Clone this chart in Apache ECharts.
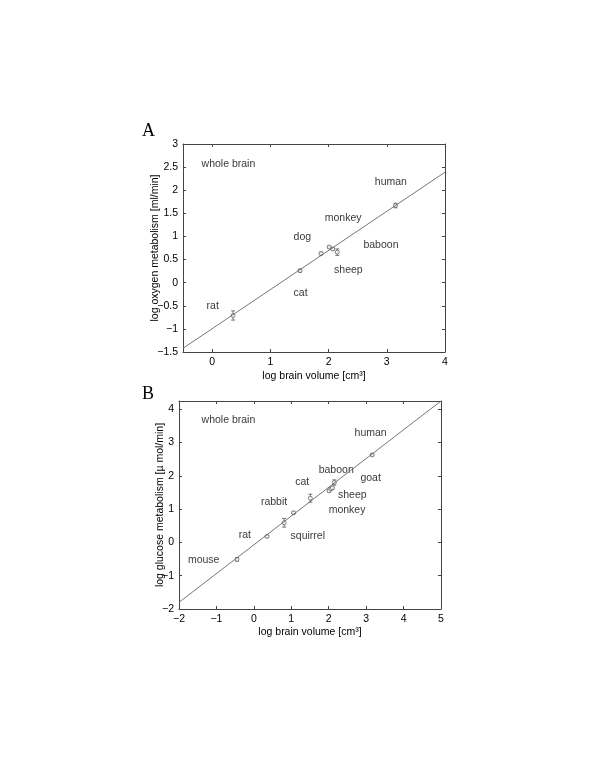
<!DOCTYPE html>
<html>
<head>
<meta charset="utf-8">
<script src="https://cdn.jsdelivr.net/npm/echarts@6/dist/echarts.min.js"></script>
<style>
html, body { margin: 0; padding: 0; background: #fff; }
#chart { width: 600px; height: 776px; }
</style>
</head>
<body>
<div id="chart"></div>
<script>
// ---- panel A : oxygen metabolism ----
var oxyVolume = [0.36, 1.51, 1.87, 2.01, 2.07, 2.15, 3.15];
var oxyRate   = [-0.71, 0.26, 0.63, 0.77, 0.73, 0.66, 1.67];
var oxyErr    = [0.10, 0.03, 0.03, 0.02, 0.02, 0.07, 0.05];
var oxyFit    = [[-0.5, -1.42], [4, 2.39]];
var oxyNames  = ['whole brain', 'human', 'monkey', 'dog', 'baboon', 'sheep', 'cat', 'rat'];
var oxyNameX  = [0.28, 3.07, 2.25, 1.55, 2.90, 2.34, 1.52, 0.01];
var oxyNameY  = [2.57, 2.17, 1.39, 0.98, 0.82, 0.27, -0.22, -0.50];
var xTicksA   = [0, 1, 2, 3, 4];
var yTicksA   = [-1.5, -1, -0.5, 0, 0.5, 1, 1.5, 2, 2.5, 3];

// ---- panel B : glucose metabolism ----
var gluVolume = [-0.45, 0.35, 0.81, 1.06, 1.51, 2.01, 2.06, 2.10, 2.15, 3.16];
var gluRate   = [-0.51, 0.18, 0.59, 0.89, 1.33, 1.55, 1.61, 1.64, 1.80, 2.63];
var gluErr    = [0.05, 0.03, 0.13, 0.03, 0.12, 0.03, 0.03, 0.03, 0.08, 0.03];
var gluFit    = [[-2, -1.80], [5, 4.25]];
var gluNames  = ['whole brain', 'human', 'baboon', 'goat', 'cat', 'sheep', 'rabbit', 'monkey', 'rat', 'squirrel', 'mouse'];
var gluNameX  = [-0.68, 3.12, 2.20, 3.12, 1.29, 2.63, 0.54, 2.49, -0.24, 1.44, -1.34];
var gluNameY  = [3.68, 3.29, 2.17, 1.92, 1.80, 1.43, 1.22, 0.98, 0.21, 0.18, -0.54];
var xTicksB   = [-2, -1, 0, 1, 2, 3, 4, 5];
var yTicksB   = [-2, -1, 0, 1, 2, 3, 4];

var FONT = 'Liberation Sans, Arial, sans-serif';
var axisColor = '#444';

function minusFmt(v) {
  return String(v).replace('-', '\u2212');
}

// bottom / left axis with labels, top / right axis only ticks (matlab box)
function mainAxis(grid, min, max, ticks, name, gap, pos) {
  return {
    type: 'value', gridIndex: grid, min: min, max: max, position: pos,
    name: name, nameLocation: 'middle', nameGap: gap, nameMoveOverlap: false,
    nameTextStyle: { fontFamily: FONT, fontSize: 10.5, color: '#000' },
    axisLine: { show: true, onZero: false, lineStyle: { color: axisColor, width: 1 } },
    axisTick: { show: true, inside: true, length: 3, customValues: ticks, lineStyle: { color: axisColor } },
    axisLabel: { show: true, customValues: ticks, margin: 5, formatter: minusFmt,
      fontFamily: FONT, fontSize: 10.5, color: '#000' },
    splitLine: { show: false }
  };
}
function boxAxis(grid, min, max, ticks, pos) {
  return {
    type: 'value', gridIndex: grid, min: min, max: max, position: pos,
    axisLine: { show: true, onZero: false, lineStyle: { color: axisColor, width: 1 } },
    axisTick: { show: true, inside: true, length: 3, customValues: ticks, lineStyle: { color: axisColor } },
    axisLabel: { show: false },
    splitLine: { show: false }
  };
}

function errorBarItem(params, api) {
  var x = api.value(0);
  var top = api.coord([x, api.value(2)]);
  var bot = api.coord([x, api.value(1)]);
  var w = 2;
  var st = { stroke: '#555', lineWidth: 0.8 };
  return {
    type: 'group',
    children: [
      { type: 'line', shape: { x1: top[0], y1: top[1], x2: bot[0], y2: bot[1] }, style: st },
      { type: 'line', shape: { x1: top[0] - w, y1: top[1], x2: top[0] + w, y2: top[1] }, style: st },
      { type: 'line', shape: { x1: bot[0] - w, y1: bot[1], x2: bot[0] + w, y2: bot[1] }, style: st }
    ]
  };
}

function panelSeries(xi, yi, vol, rate, err, fit, names, nx, ny) {
  var pts = [], bars = [], labels = [];
  for (var i = 0; i < vol.length; i++) {
    pts.push([vol[i], rate[i]]);
    bars.push([vol[i], rate[i] - err[i], rate[i] + err[i]]);
  }
  for (var j = 0; j < names.length; j++) {
    labels.push([nx[j], ny[j], names[j]]);
  }
  return [
    { type: 'line', xAxisIndex: xi, yAxisIndex: yi, data: fit, showSymbol: false,
      lineStyle: { color: '#666', width: 0.9 }, silent: true },
    { type: 'custom', xAxisIndex: xi, yAxisIndex: yi, data: bars,
      encode: { x: 0, y: [1, 2] }, renderItem: errorBarItem, silent: true },
    { type: 'scatter', xAxisIndex: xi, yAxisIndex: yi, data: pts, symbol: 'circle', symbolSize: 4,
      itemStyle: { color: '#fff', borderColor: '#555', borderWidth: 0.9 }, silent: true },
    { type: 'scatter', xAxisIndex: xi, yAxisIndex: yi, data: labels, symbolSize: 1,
      itemStyle: { color: 'rgba(0,0,0,0)' }, silent: true,
      label: { show: true, position: 'inside', formatter: function (p) { return p.value[2]; },
        fontFamily: FONT, fontSize: 10.5, color: '#000' } }
  ];
}

var chart = echarts.init(document.getElementById('chart'));
chart.setOption({
  animation: false,
  backgroundColor: '#fff',
  title: [
    { text: 'A', left: 137, top: 117, textStyle: { fontFamily: 'Liberation Serif, Times New Roman, serif', fontSize: 18, fontWeight: 'normal', color: '#000' } },
    { text: 'B', left: 137, top: 380, textStyle: { fontFamily: 'Liberation Serif, Times New Roman, serif', fontSize: 18, fontWeight: 'normal', color: '#000' } }
  ],
  grid: [
    { left: 183, top: 144, width: 262, height: 208 },
    { left: 179, top: 401, width: 262, height: 208 }
  ],
  xAxis: [
    mainAxis(0, -0.5, 4, xTicksA, 'log brain volume [cm\u00b3]', 19, 'bottom'),
    boxAxis(0, -0.5, 4, xTicksA, 'top'),
    mainAxis(1, -2, 5, xTicksB, 'log brain volume [cm\u00b3]', 18, 'bottom'),
    boxAxis(1, -2, 5, xTicksB, 'top')
  ],
  yAxis: [
    mainAxis(0, -1.5, 3, yTicksA, 'log oxygen metabolism [ml/min]', 22, 'left'),
    boxAxis(0, -1.5, 3, yTicksA, 'right'),
    mainAxis(1, -2, 4.25, yTicksB, 'log glucose metabolism [\u00b5 mol/min]', 13, 'left'),
    boxAxis(1, -2, 4.25, yTicksB, 'right')
  ],
  series: [].concat(
    panelSeries(0, 0, oxyVolume, oxyRate, oxyErr, oxyFit, oxyNames, oxyNameX, oxyNameY),
    panelSeries(2, 2, gluVolume, gluRate, gluErr, gluFit, gluNames, gluNameX, gluNameY)
  )
});
</script>
</body>
</html>
